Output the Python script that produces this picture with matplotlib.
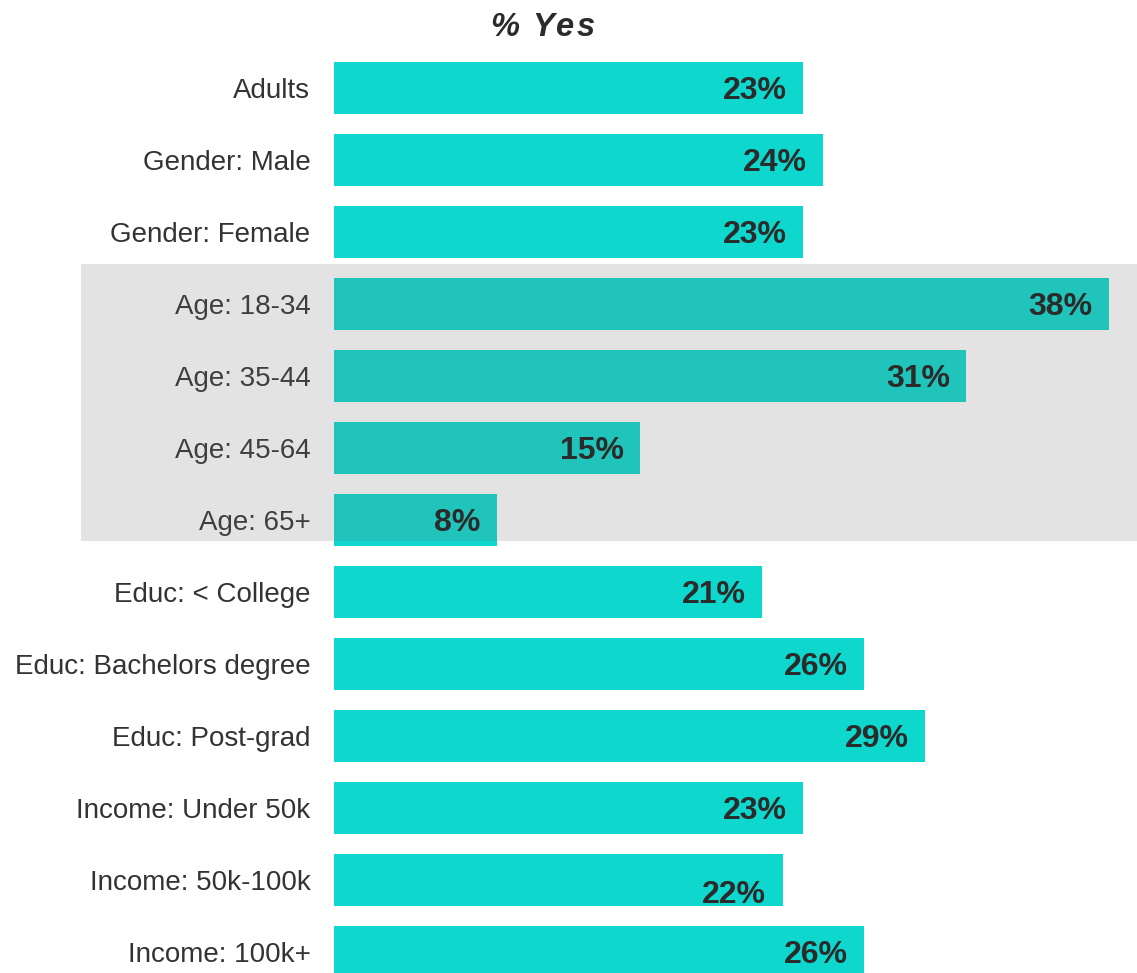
import matplotlib.pyplot as plt
import matplotlib.transforms as mtransforms
from matplotlib.patches import Rectangle

plt.rcParams['font.family'] = ['Liberation Sans', 'DejaVu Sans']

# Share answering "yes", by group
groups = ['Adults', 'Gender: Male', 'Gender: Female',
          'Age: 18-34', 'Age: 35-44', 'Age: 45-64', 'Age: 65+',
          'Educ: < College', 'Educ: Bachelors degree', 'Educ: Post-grad',
          'Income: Under 50k', 'Income: 50k-100k', 'Income: 100k+']
yes_pct = [23, 24, 23, 38, 31, 15, 8, 21, 26, 29, 23, 22, 26]

# rows shaded as one block
age_rows = [3, 4, 5, 6]
# label that sits a little below its bar
label_nudge = {11: 0.16}

teal = '#0ED8CD'
W, H = 1137, 973
fig = plt.figure(figsize=(W / 100, H / 100), dpi=100)
ax = fig.add_axes([334 / W, 0, 1 - 334 / W, (H - 52) / H])

rows = list(range(len(groups)))
ax.barh(rows, yes_pct, height=0.72, color=teal, zorder=2)

ax.set_xlim(0, 38 * (W - 334) / (1109 - 334))
ax.set_ylim(12.29, -0.5)

ax.set_yticks(rows)
ax.set_yticklabels(groups, fontsize=20, color='#333333')
ax.tick_params(axis='y', length=0, pad=17)
ax.set_xticks([])
for s in ax.spines.values():
    s.set_visible(False)

# value labels just inside the bar ends
for i, v in enumerate(yes_pct):
    ax.text(v - 0.8, i + 0.04 + label_nudge.get(i, 0), f'{v}%', ha='right', va='center',
            fontsize=23, fontweight='bold', color='#2b2b2b', zorder=5)

# grey band over the age groups
trans = mtransforms.blended_transform_factory(fig.transFigure, ax.transData)
top = age_rows[0] - 0.56
bottom = age_rows[-1] + 0.29
band = Rectangle((81 / W, top), 1 - 81 / W, bottom - top, transform=trans,
                 facecolor='#6e6e6e', alpha=0.19, linewidth=0, zorder=3,
                 clip_on=False)
ax.add_patch(band)

# title with a little letter spacing
title = '% Yes'
x = 490 / W
for ch in title:
    t = fig.text(x, 1 - 28 / H, ch, ha='left', va='center',
                 fontsize=23.5, fontweight='bold', fontstyle='italic', color='#2b2b2b')
    fig.canvas.draw()
    bb = t.get_window_extent()
    step = (bb.width if ch != ' ' else 8) + 2.5
    x += step / W

fig.savefig('out.png', dpi=100)
